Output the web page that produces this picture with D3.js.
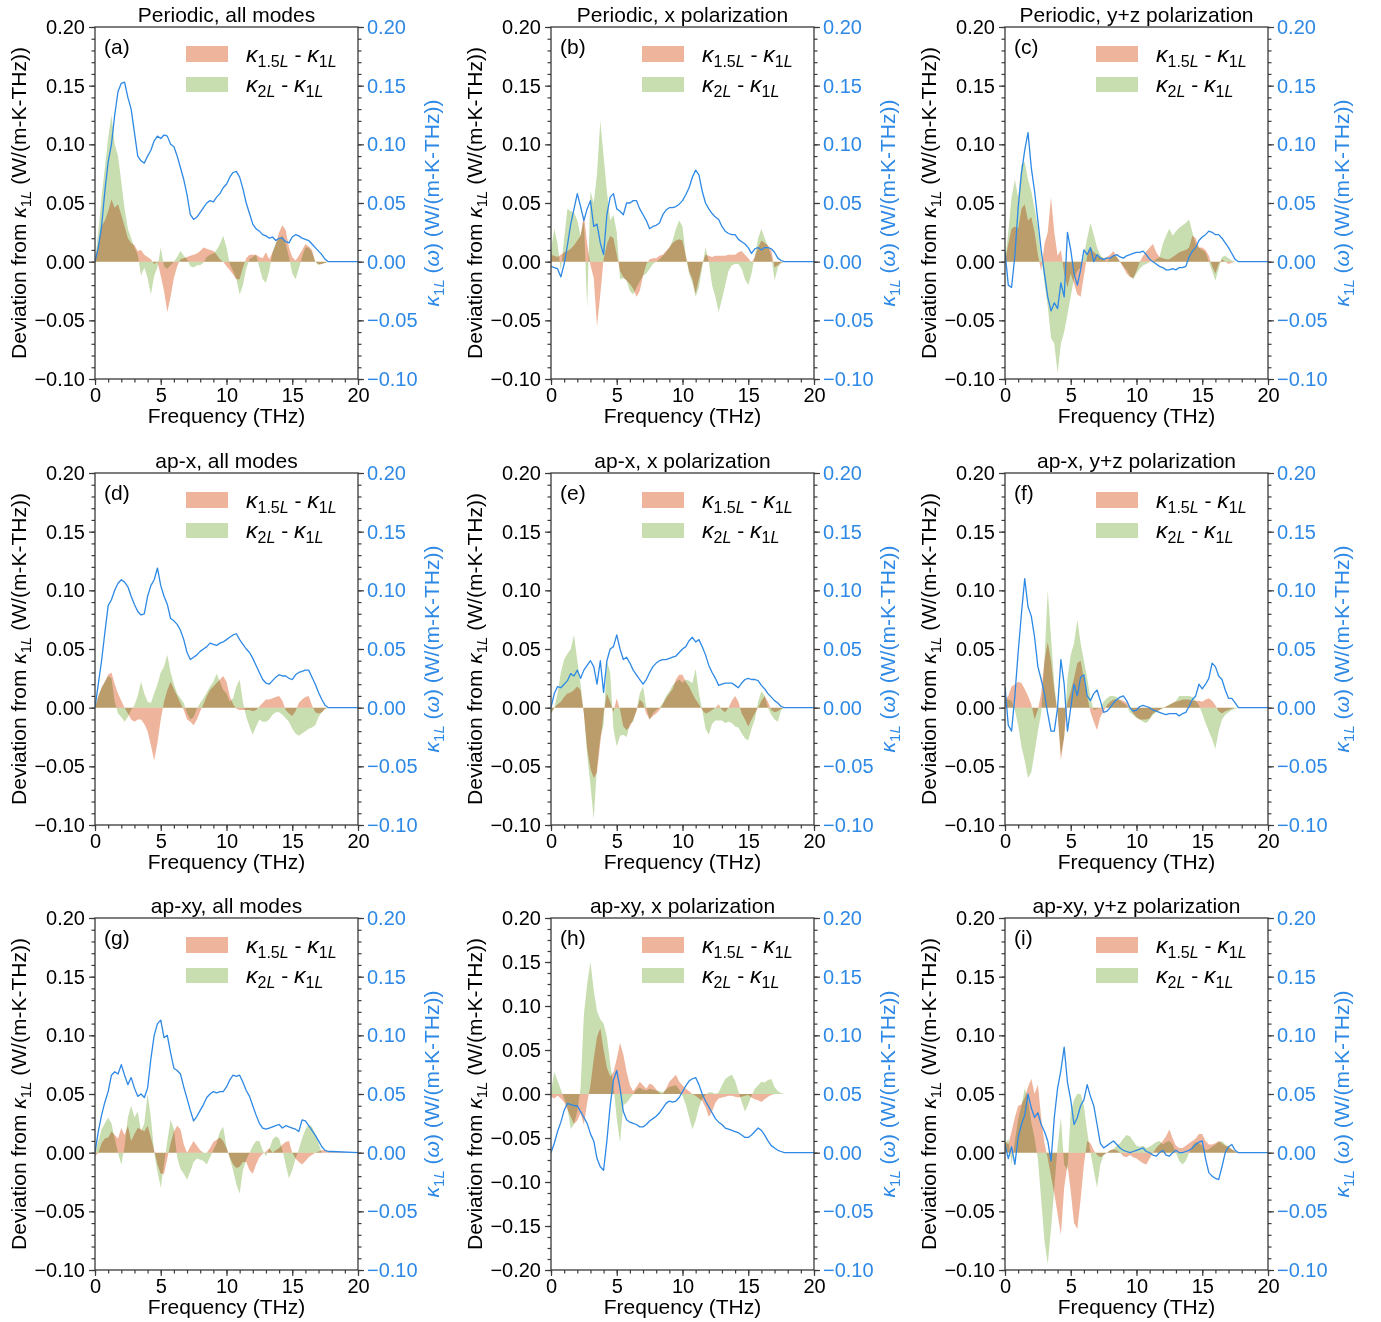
<!DOCTYPE html>
<html>
<head>
<meta charset="utf-8">
<script src="https://cdn.jsdelivr.net/npm/d3@7"></script>
<style>
body { margin: 0; background: #fff; }
svg text { font-family: "Liberation Sans", Arial, sans-serif; }
</style>
</head>
<body>
<script>
// frequency grid (THz), 0.25 steps up to 18, then flat to 20
var freq = d3.range(0, 18.001, 0.25).concat([20]);

// ---- (a) Periodic, all modes
var orangeA = [0,.015,.03,.035, .043,.053,.046,.049, .04,.03,.02,.016, .014,.009,.01,.006, .004,.002,-.002,0, -.012,-.025,-.043,-.03, -.014,-.004,.002,.003, .004,.005,.006,.007, .009,.012,.011,.01, .009,.006,.002,0, -.004,-.007,-.011,-.015, -.015,-.005,.003,.006, .006,.006,.004,.003, .008,.002,.008,.015, .025,.031,.027,.012, .004,.001,.005,.01, .015,.013,.01,0, -.002,-.002,-.001,0, 0];
var greenA = [0,.025,.055,.08, .105,.125,.1,.09, .068,.045,.028,.02, .012,.006,-.012,-.005, -.014,-.028,-.012,-.005, .012,-.004,-.006,-.003, 0,.004,.009,.005, .002,-.004,-.005,-.003, -.003,-.001,.004,.006, .007,.01,.015,.022, .012,-.002,-.008,-.015, -.028,-.02,-.006,.002, .004,.006,-.005,-.015, -.018,-.008,.008,.016, .02,.022,.015,.004, -.01,-.015,-.006,.004, .012,.012,.008,0, -.003,-.002,-.001,0, 0];
var blueA = [0,.012,.03,.06, .085,.1,.125,.145, .152,.153,.14,.13, .11,.09,.086,.084, .09,.095,.103,.107, .105,.108,.107,.1, .098,.09,.08,.07, .057,.04,.036,.038, .042,.046,.05,.052, .051,.055,.058,.063, .066,.072,.076,.077, .072,.062,.05,.041, .032,.028,.026,.023, .022,.02,.021,.018, .02,.02,.017,.016, .021,.023,.022,.02, .019,.018,.015,.012, .009,.006,.002,0, 0];

// ---- (b) Periodic, x polarization
var orangeB = [.006,.005,.004,.006, .008,.009,.011,.014, .018,.022,.04,.015, -.003,-.014,-.055,-.028, .002,.015,.022,.02, .006,-.008,-.013,-.016, -.019,-.023,-.03,-.025, -.012,-.002,.002,.003, .003,.005,.006,.009, .012,.016,.018,.019, .018,.005,-.008,-.015, -.027,-.015,-.002,.006, .005,.004,.005,.005, .005,.005,.006,.006, .006,.008,.009,.006, .003,-.001,.004,.012, .018,.016,.014,.01, -.005,-.003,-.001,0, 0];
var greenB = [.01,.028,.015,-.008, .02,.045,.043,.042, .035,.022,.035,-.04, .06,.05,.075,.12, .09,.06,.035,.04, .025,-.015,-.014,-.016, -.025,-.028,-.022,-.017, -.012,-.01,-.006,-.002, 0,.002,.005,.008, .012,.018,.028,.035, .03,.005,-.01,-.018, -.03,-.022,-.005,.012, 0,-.02,-.03,-.043, -.032,-.02,-.008,-.003, -.002,-.002,-.006,-.015, -.02,-.01,.005,.02, .028,.02,.013,.005, -.016,-.005,-.001,0, 0];
var blueB = [-.004,-.005,-.006,-.013, -.002,.014,.032,.045, .058,.047,.035,.045, .052,.03,.032,.016, .006,.04,.055,.058, .045,.043,.04,.05, .05,.052,.052,.045, .04,.035,.028,.03, .031,.033,.04,.044, .046,.046,.047,.049, .052,.057,.063,.072, .078,.074,.06,.05, .045,.041,.038,.036, .03,.026,.024,.023, .023,.019,.017,.015, .012,.007,.011,.012, .01,.012,.012,.011, .008,.003,.001,0, 0];

// ---- (c) Periodic, y+z polarization
var orangeC = [0,.015,.028,.03, .028,.045,.049,.035, .038,.025,.006,-.008, .015,.025,.055,.025, .005,.01,-.01,-.022, -.01,-.019,-.028,-.03, -.012,.005,.012,.008, .006,.004,.003,.004, .006,.009,.004,0, -.005,-.01,-.013,-.014, -.008,0,.005,.009, .012,.015,.008,.004, .003,.002,.002,.004, .006,.008,.009,.01, .012,.022,.02,.012, .012,.01,.005,-.004, -.01,-.002,.002,0, -.002,-.001,0,0, 0];
var greenC = [0,.025,.055,.07, .055,.083,.085,.07, .06,.045,.03,.005, -.018,-.038,-.065,-.07, -.095,-.07,-.06,-.045, -.03,-.014,-.008,-.005, .005,.02,.033,.023, .012,.006,.002,0, .003,.006,.004,0, -.004,-.007,-.012,-.015, -.01,-.006,-.003,-.002, 0,0,.002,.004, .015,.022,.028,.022, .026,.029,.031,.033, .036,.025,.015,.012, .01,.008,0,-.008, -.016,-.006,.004,.005, .003,.001,0,0, 0];
var blueC = [.009,-.02,-.022,.005, .046,.075,.095,.11, .08,.06,.035,.01, -.01,-.03,-.042,-.035, -.04,-.018,-.03,.025, .01,-.01,-.02,-.007, .01,.006,.012,0, .006,.003,.002,.003, .003,.005,.006,.004, .003,.005,.006,.007, .008,.008,.009,.006, .002,0,-.002,-.004, -.005,-.007,-.007,-.006, -.007,-.005,-.005,-.004, .004,.009,.012,.018, .021,.023,.026,.025, .023,.023,.02,.016, .012,.007,.002,0, 0];

// ---- (d) ap-x, all modes
var orangeD = [0,.01,.017,.022, .028,.03,.02,.012, .006,0,-.005,-.01, -.012,-.01,-.01,-.014, -.02,-.032,-.045,-.03, -.01,.005,.015,.022, .016,.01,.004,-.002, -.01,-.012,-.015,-.01, -.003,.003,.01,.015, .018,.021,.024,.027, .022,.01,.003,-.001, -.002,-.002,-.002,-.002, -.003,-.002,.001,.004, .007,.007,.008,.009, .01,.006,-.002,-.005, -.007,-.003,.004,.007, .009,.01,.002,-.004, -.005,-.004,-.001,0, 0];
var greenD = [0,.01,.017,.022, .027,.025,.005,-.005, -.008,-.012,-.008,-.002, .002,.01,.022,.012, .005,.004,.012,.02, .03,.035,.045,.03, .02,.012,.008,.004, -.005,-.01,-.008,-.001, .004,.008,.013,.018, .022,.029,.022,.015, .012,.005,.008,.018, .024,.005,-.008,-.016, -.023,-.016,-.01,-.012, -.012,-.01,-.006,-.004, -.004,-.006,-.009,-.012, -.018,-.022,-.024,-.022, -.02,-.018,-.017,-.015, -.008,-.004,-.001,0, 0];
var blueD = [0,.02,.04,.064, .087,.092,.1,.106, .109,.107,.103,.095, .088,.082,.079,.08, .095,.104,.109,.119, .104,.095,.088,.076, .074,.071,.066,.058, .047,.041,.043,.045, .048,.05,.052,.055, .054,.053,.055,.056, .058,.06,.062,.063, .058,.054,.05,.047, .042,.036,.03,.024, .021,.02,.023,.026, .028,.027,.027,.025, .024,.028,.03,.031, .032,.032,.026,.02, .013,.007,.002,0, 0];

// ---- (e) ap-x, x polarization
var orangeE = [-.005,0,.003,.005, .009,.012,.013,.015, .018,.015,-.005,-.035, -.052,-.06,-.055,-.03, -.005,.012,.005,-.004, .008,-.002,-.016,-.019, -.016,-.01,-.003,.007, .004,-.005,-.01,-.007, -.005,-.002,.003,.008, .012,.016,.024,.028, .028,.022,.018,.012, .007,.003,-.002,-.005, -.004,-.002,0,.003, -.002,-.004,0,.006, .01,.005,-.005,-.01, -.016,-.01,-.005,0, .006,.01,.005,-.002, -.004,-.003,-.001,0, 0];
var greenE = [-.005,0,.012,.03, .041,.046,.05,.062, .04,.02,-.005,-.04, -.066,-.095,-.05,-.025, -.015,.04,.03,-.018, -.033,-.024,-.023,-.025, -.014,-.012,-.002,.012, .018,0,-.01,-.005, -.002,0,.004,.01, .014,.019,.022,.024, .021,.024,.023,.021, .033,.012,-.002,-.018, -.023,-.014,-.011,-.011, -.011,-.013,-.012,-.013, -.016,-.017,-.022,-.026, -.028,-.018,-.01,.005, .014,.01,0,-.006, -.01,-.012,-.002,0, 0];
var blueE = [0,.012,.018,.017, .02,.023,.029,.027, .032,.025,.032,.036, .04,.035,.02,.04, .013,.04,.05,.052, .062,.05,.041,.043, .038,.032,.028,.024, .02,.024,.03,.035, .038,.04,.041,.041, .042,.043,.044,.047, .05,.052,.057,.06, .056,.058,.052,.045, .036,.03,.025,.019, .02,.021,.021,.021, .019,.017,.021,.024, .025,.024,.024,.023, .019,.016,.012,.009, .006,.004,.001,0, 0];

// ---- (f) ap-x, y+z polarization
var orangeF = [.007,.01,.018,.02, .022,.021,.016,.01, .003,-.01,-.002,.012, .04,.056,.04,.015, -.005,-.045,-.025,.005, .014,.025,.038,.04, .025,.01,-.004,-.012, -.019,-.008,-.003,.002, .005,.007,.007,.007, .006,.004,0,-.005, -.008,-.01,-.01,-.01, -.009,-.005,-.003,-.002, 0,.001,.002,.004, .005,.006,.007,.007, .007,.006,.006,.006, .005,.007,.008,.006, .002,-.003,-.005,-.003, -.002,-.001,0,0, 0];
var greenF = [.007,.007,.006,-.002, -.015,-.033,-.045,-.06, -.055,-.038,-.02,-.005, .04,.1,.06,.02, -.005,-.04,-.025,.025, .045,.055,.075,.055, .04,.025,.008,-.002, -.001,0,.005,.008, .01,.01,.009,.006, .004,.002,-.004,-.006, -.009,-.01,-.012,-.013, -.01,-.006,-.004,-.002, -.001,.001,.003,.004, .006,.01,.01,.01, .01,.009,.006,.002, -.005,-.013,-.02,-.027, -.035,-.02,-.01,-.006, -.004,-.002,-.001,0, 0];
var blueF = [.018,-.015,-.02,.01, .047,.08,.11,.086, .078,.06,.035,.024, .012,-.005,-.02,-.02, 0,.041,.02,-.02, 0,.02,.01,.026, .028,.01,.006,.012, .015,.006,-.004,-.003, 0,.004,.007,.009, .01,.006,0,-.003, -.002,.001,.002,.001, 0,-.002,-.003,-.004, -.005,-.006,-.005,-.005, -.005,-.007,-.005,-.004, .001,.007,.01,.02, .016,.02,.025,.038, .035,.027,.024,.015, .008,.008,.004,0, 0];

// ---- (g) ap-xy, all modes
var orangeG = [-.003,0,.008,.012, .013,.018,.015,.012, .021,.015,.023,.01, .016,.021,.02,.018, .023,.013,.002,-.01, -.018,-.018,-.005,.008, .018,.023,.02,.007, 0,.005,.01,.006, .002,0,0,.004, .009,.011,.013,.01, .004,-.004,-.01,-.013, -.012,-.008,-.008,-.015, -.018,-.01,-.004,-.001, .001,.004,0,.002, .004,.007,.009,.01, 0,-.005,-.008,-.01, -.007,-.004,-.002,0, .001,.002,.002,.001, .001];
var greenG = [0,.01,.02,.025, .03,.025,.012,0, -.01,.005,.03,.04, .03,.035,.018,.025, .05,.03,0,-.016, -.03,-.01,.01,.028, .02,-.004,-.014,-.018, -.023,-.016,-.008,-.005, -.006,-.007,-.01,-.004, .002,.008,.018,.022, .005,-.005,-.015,-.027, -.035,-.015,-.006,0, .006,.01,.01,.002, -.003,.003,.011,.014, .012,.002,-.01,-.022, -.015,-.005,.003,.012, .02,.024,.022,.016, .008,0,0,0, 0];
var blueG = [0,.018,.032,.043, .052,.066,.069,.067, .075,.066,.058,.064, .055,.048,.05,.047, .055,.08,.1,.11, .113,.098,.1,.085, .072,.07,.067,.056, .046,.036,.027,.031, .036,.041,.047,.05, .052,.051,.052,.052, .056,.062,.066,.065, .066,.06,.053,.048, .04,.032,.025,.021, .02,.021,.022,.023, .024,.021,.023,.022, .021,.02,.018,.028, .027,.023,.019,.015, .01,.005,.002,.001, .001];

// ---- (h) ap-xy, x polarization (fills on a -0.2..0.2 left axis)
var orangeH = [-.003,-.005,-.002,-.005, -.009,-.018,-.026,-.034, -.03,-.022,-.035,-.01, .01,.04,.065,.075, .05,.03,.02,.025, .04,.058,.045,.025, .01,.003,.008,.014, .01,.006,.012,.01, .005,.001,0,.006, .014,.018,.022,.014, .01,.006,.003,0, -.002,-.005,-.008,-.015, -.026,-.02,-.01,-.005, -.004,-.003,-.002,-.002, -.003,-.004,-.003,-.002, -.001,-.004,-.006,-.007, -.009,-.006,-.003,-.001, 0,0,0,0, 0];
var greenH = [.003,.025,.015,.005, -.005,-.015,-.04,-.034, -.02,.007,.09,.125, .15,.118,.094,.085, .08,.065,.035,.01, -.028,-.055,-.013,-.01, -.005,0,.005,.007, .005,.004,.006,.005, .004,.003,.002,.005, .008,.009,.01,.005, -.002,-.012,-.026,-.04, -.03,-.015,-.005,-.001, .002,.002,0,.002, .01,.017,.02,.022, .015,.003,-.009,-.02, -.012,-.002,.006,.01, .014,.013,.016,.017, .008,.003,.001,0, 0];
var blueH = [0,.008,.018,.026, .036,.042,.041,.04, .04,.035,.03,.025, .016,.01,-.005,-.012, -.015,.01,.04,.062, .07,.055,.035,.028, .026,.025,.024,.022, .022,.024,.027,.029, .031,.034,.038,.042, .044,.043,.044,.047, .052,.057,.061,.063, .064,.058,.05,.044, .039,.034,.029,.026, .024,.021,.02,.019, .018,.017,.015,.013, .013,.015,.018,.021, .019,.015,.01,.006, .004,.002,.001,0, 0];

// ---- (i) ap-xy, y+z polarization
var orangeI = [.01,.007,.018,.03, .04,.041,.047,.056, .063,.05,.058,.03, .008,-.005,-.02,-.035, -.052,-.07,-.03,-.01, -.033,-.06,-.065,-.04, -.01,.01,.008,.002, -.002,-.004,-.002,0, .002,.003,.002,0, -.003,-.004,-.002,-.004, -.005,-.007,-.009,-.01, -.005,0,.004,.007, .01,.014,.02,.012, .006,.004,.004,.006, .008,.01,.012,.016, .016,.01,.007,.007, .008,.01,.008,.006, .005,.003,.001,0, 0];
var greenI = [.007,.012,-.01,.01, .028,.04,.055,.045, .026,.012,-.005,-.04, -.075,-.095,-.065,-.03, .005,.03,-.01,-.015, .035,.045,.05,.05, .04,.018,0,-.015, -.03,-.01,-.002,0, .002,.003,.006,.008, .012,.015,.014,.01, .006,.005,.006,.004, .005,.007,.009,.01, .007,.009,.01,.007, 0,-.007,-.01,-.007, 0,.006,.009,.008, .006,.002,.003,.005, .007,.009,.01,.007, .005,.003,.001,0, 0];
var blueI = [.007,-.005,.005,-.01, .013,.024,.032,.05, .038,.03,.034,.024, .018,.01,-.007,.03, .055,.07,.09,.06, .045,.024,.03,.04, .045,.058,.048,.04, .024,.008,.004,.006, .008,.01,.007,.004, .002,.001,0,.001, .002,.003,.004,.001, 0,-.002,-.003,0, .002,-.002,-.003,0, .002,0,0,.001, .002,.004,.007,.009, .01,-.005,-.017,-.02, -.022,-.023,-.012,0, .005,.007,.002,0, 0];

var titles = ["Periodic, all modes", "Periodic, x polarization", "Periodic, y+z polarization",
              "ap-x, all modes", "ap-x, x polarization", "ap-x, y+z polarization",
              "ap-xy, all modes", "ap-xy, x polarization", "ap-xy, y+z polarization"];
var letters = ["(a)", "(b)", "(c)", "(d)", "(e)", "(f)", "(g)", "(h)", "(i)"];
var orangeSets = [orangeA, orangeB, orangeC, orangeD, orangeE, orangeF, orangeG, orangeH, orangeI];
var greenSets = [greenA, greenB, greenC, greenD, greenE, greenF, greenG, greenH, greenI];
var blueSets = [blueA, blueB, blueC, blueD, blueE, blueF, blueG, blueH, blueI];

var xTicks = [0, 5, 10, 15, 20];
var leftTicks = [-0.1, -0.05, 0, 0.05, 0.1, 0.15, 0.2];
var leftTicksH = [-0.2, -0.15, -0.1, -0.05, 0, 0.05, 0.1, 0.15, 0.2];
var rightTicks = [-0.1, -0.05, 0, 0.05, 0.1, 0.15, 0.2];

var width = 1381, height = 1322;
var colLeft = [95, 551, 1005], rowTop = [27, 473, 918];
var pw = 263, ph = 352;
var orangeFill = "#efb49c", greenFill = "#c8deb0", blue = "#2d89e5", axisColor = "#3a3a3a";

var svg = d3.select("body").append("svg")
    .attr("width", width)
    .attr("height", height);

var fmt = d3.format(".2f");

// text with kappa / subscripts built from parts
function richText(sel, parts, size, subScale) {
  var inSub = false;
  var shift = Math.round(size * 0.25);
  parts.forEach(function(p) {
    var t = sel.append("tspan").text(p.t);
    if (p.it) t.attr("font-style", "italic");
    if (p.big) t.attr("font-size", Math.round(size * 1.08));
    if (p.sub && !inSub) { t.attr("dy", shift); inSub = true; }
    else if (!p.sub && inSub) { t.attr("dy", -shift); inSub = false; }
    if (p.sub) t.attr("font-size", Math.round(size * (subScale || 0.7)));
  });
}

var kap = {t: "κ", it: true};
var kapL = {t: "κ", it: true, big: true};
var leg1 = [kapL, {t: "1.5", sub: true}, {t: "L", sub: true, it: true}, {t: " - "}, kapL, {t: "1", sub: true}, {t: "L", sub: true, it: true}];
var leg2 = [kapL, {t: "2", sub: true}, {t: "L", sub: true, it: true}, {t: " - "}, kapL, {t: "1", sub: true}, {t: "L", sub: true, it: true}];
var leftLab = [{t: "Deviation from "}, kap, {t: "1", sub: true}, {t: "L", sub: true, it: true}, {t: " (W/(m-K-THz))"}];
var rightLab = [kap, {t: "1", sub: true}, {t: "L", sub: true, it: true}, {t: " ("}, {t: "ω", it: true}, {t: ") (W/(m-K-THz))"}];

function styleAxis(ax, textColor) {
  ax.select(".domain").remove();
  ax.selectAll(".tick line").attr("stroke", axisColor).attr("stroke-width", 1.2);
  ax.selectAll(".tick text").attr("font-size", 20).attr("fill", textColor)
    .attr("font-family", "Liberation Sans, Arial, sans-serif");
}

titles.forEach(function(title, i) {
  var left = colLeft[i % 3], top = rowTop[Math.floor(i / 3)];
  var isH = (i === 7);
  var x = d3.scaleLinear().domain([0, 20]).range([0, pw]);
  var y = d3.scaleLinear().domain(isH ? [-0.2, 0.2] : [-0.1, 0.2]).range([ph, 0]);
  var y2 = d3.scaleLinear().domain([-0.1, 0.2]).range([ph, 0]);

  var g = svg.append("g").attr("transform", "translate(" + left + "," + top + ")");

  g.append("clipPath").attr("id", "clip" + i)
    .append("rect").attr("width", pw).attr("height", ph);

  function pts(arr) {
    return freq.map(function(f, j) { return [f, j < arr.length ? arr[j] : 0]; });
  }

  var area = d3.area()
      .x(function(d) { return x(d[0]); })
      .y0(y(0))
      .y1(function(d) { return y(d[1]); });

  var plot = g.append("g").attr("clip-path", "url(#clip" + i + ")");
  plot.append("path").datum(pts(orangeSets[i]))
      .attr("d", area).attr("fill", orangeFill)
      .style("mix-blend-mode", "multiply");
  plot.append("path").datum(pts(greenSets[i]))
      .attr("d", area).attr("fill", greenFill)
      .style("mix-blend-mode", "multiply");

  var line = d3.line()
      .x(function(d) { return x(d[0]); })
      .y(function(d) { return y2(d[1]); });
  plot.append("path").datum(pts(blueSets[i]))
      .attr("d", line).attr("fill", "none")
      .attr("stroke", blue).attr("stroke-width", 1.3)
      .attr("stroke-linejoin", "round");

  // axes
  var minorLeft = isH ? d3.range(-16, 17).map(function(k) { return k * 0.0125; })
                      : d3.range(-10, 21).map(function(k) { return k / 100; });
  var minorRight = d3.range(-10, 21).map(function(k) { return k / 100; });

  var axL = g.append("g").call(d3.axisLeft(y).tickValues(minorLeft).tickSize(3.5).tickFormat(""));
  styleAxis(axL, "#000");
  axL = g.append("g").call(d3.axisLeft(y).tickValues(isH ? leftTicksH : leftTicks).tickSize(6).tickPadding(4).tickFormat(fmt));
  styleAxis(axL, "#000");

  var axR = g.append("g").attr("transform", "translate(" + pw + ",0)")
      .call(d3.axisRight(y2).tickValues(minorRight).tickSize(3.5).tickFormat(""));
  styleAxis(axR, blue);
  axR = g.append("g").attr("transform", "translate(" + pw + ",0)")
      .call(d3.axisRight(y2).tickValues(rightTicks).tickSize(6).tickPadding(3).tickFormat(fmt));
  styleAxis(axR, blue);

  var axB = g.append("g").attr("transform", "translate(0," + ph + ")")
      .call(d3.axisBottom(x).tickValues(d3.range(0, 21)).tickSize(3.5).tickFormat(""));
  styleAxis(axB, "#000");
  axB = g.append("g").attr("transform", "translate(0," + ph + ")")
      .call(d3.axisBottom(x).tickValues(xTicks).tickSize(6).tickPadding(3).tickFormat(d3.format("d")));
  styleAxis(axB, "#000");

  g.append("rect").attr("width", pw).attr("height", ph)
    .attr("fill", "none").attr("stroke", axisColor).attr("stroke-width", 1.3);

  // title, letter, labels
  g.append("text").attr("x", pw / 2).attr("y", -5)
    .attr("text-anchor", "middle").attr("font-size", 21).text(title);
  g.append("text").attr("x", 9).attr("y", 27).attr("font-size", 21).text(letters[i]);

  g.append("text").attr("x", pw / 2).attr("y", ph + 44)
    .attr("text-anchor", "middle").attr("font-size", 21).text("Frequency (THz)");

  var yl = g.append("text")
    .attr("transform", "translate(-69," + (ph / 2) + ") rotate(-90)")
    .attr("text-anchor", "middle").attr("font-size", 21);
  richText(yl, leftLab, 21);

  var yr = g.append("text")
    .attr("transform", "translate(" + (pw + 81) + "," + (ph / 2) + ") rotate(-90)")
    .attr("text-anchor", "middle").attr("font-size", 21).attr("fill", blue);
  richText(yr, rightLab, 21);

  // legend
  g.append("rect").attr("x", 91).attr("y", 19).attr("width", 42).attr("height", 16).attr("fill", orangeFill);
  g.append("rect").attr("x", 91).attr("y", 50).attr("width", 42).attr("height", 15).attr("fill", greenFill);
  var t1 = g.append("text").attr("x", 151).attr("y", 35).attr("font-size", 21);
  richText(t1, leg1, 21, 0.76);
  var t2 = g.append("text").attr("x", 151).attr("y", 65).attr("font-size", 21);
  richText(t2, leg2, 21, 0.76);
});
</script>
</body>
</html>
